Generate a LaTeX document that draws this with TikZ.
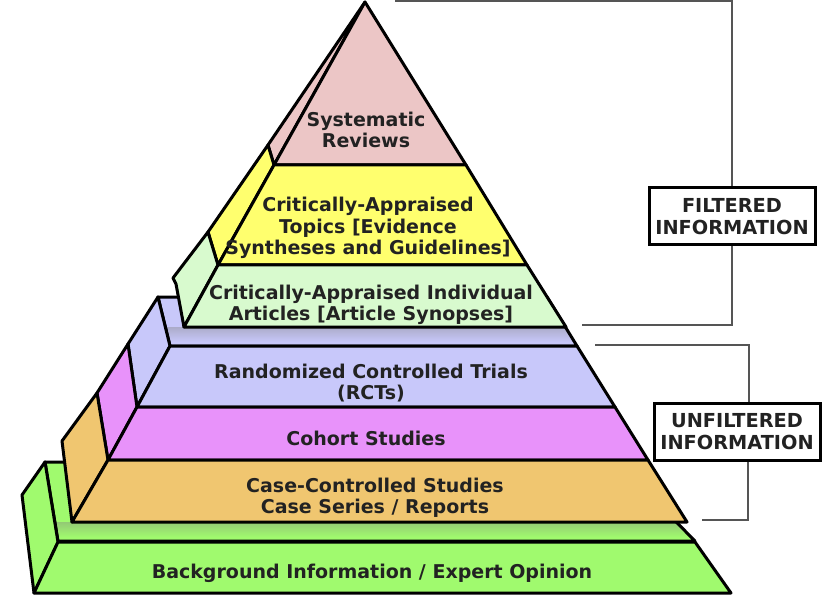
\documentclass[tikz,border=0pt]{standalone}
\usepackage{fontspec}
\setmainfont{DejaVu Sans}
\definecolor{cpink}{RGB}{236,198,198}
\definecolor{cyellow}{RGB}{255,255,110}
\definecolor{cltgreen}{RGB}{216,250,206}
\definecolor{cblue}{RGB}{200,200,250}
\definecolor{cmag}{RGB}{232,146,250}
\definecolor{corange}{RGB}{240,198,112}
\definecolor{cgreen}{RGB}{160,250,110}
\definecolor{ctext}{RGB}{34,34,34}
\definecolor{cbracket}{RGB}{85,85,85}
\begin{document}
\begin{tikzpicture}[x=1pt,y=-1pt,
  face/.style={draw=black,line width=3pt,line join=round},
  label/.style={align=center,text=ctext,font=\fontsize{19}{21.5}\selectfont\bfseries,inner sep=0pt},
  infobox/.style={draw=black,line width=3pt,fill=white,minimum width=166pt,minimum height=57pt,align=center,text=ctext,font=\fontsize{19.3}{22.5}\selectfont\bfseries,inner sep=0pt},
  bracket/.style={draw=cbracket,line width=1.6pt}]
\useasboundingbox (0,0) rectangle (831,607);
% ---------- bottom slab (green) ----------
\fill[cgreen] (45,462) -- (617,462) -- (695,541) -- (58,541) -- cycle;
\begin{scope}
  \clip (45,462) -- (617,462) -- (695,541) -- (58,541) -- cycle;
  \shade[top color=cgreen!60!gray, bottom color=cgreen] (0,522) rectangle (831,537);
\end{scope}
\draw[face] (45,462) -- (617,462) -- (695,541) -- (58,541) -- cycle;
\draw[face,fill=cgreen] (45,462) -- (58,542) -- (34,593) -- (22,495) -- cycle;
\draw[face,fill=cgreen] (58,542) -- (695,542) -- (731,593) -- (34,593) -- cycle;
% ---------- middle group ----------
\fill[cblue] (158,297) -- (547,297) -- (577,346) -- (170,346) -- cycle;
\begin{scope}
  \clip (158,297) -- (547,297) -- (577,346) -- (170,346) -- cycle;
  \shade[top color=cblue!60!gray, bottom color=cblue] (0,327) rectangle (831,342);
\end{scope}
\draw[face] (158,297) -- (547,297) -- (577,346) -- (170,346) -- cycle;
\draw[face,fill=cblue] (158,297) -- (170,346) -- (137,407) -- (128,344) -- cycle;
\draw[face,fill=cmag] (128,344) -- (137,407) -- (108,460) -- (97,393) -- cycle;
\draw[face,fill=corange] (97,393) -- (108,460) -- (72,522) -- (62,441) -- cycle;
\draw[face,fill=cblue] (170,346) -- (577,346) -- (615,407) -- (137,407) -- cycle;
\draw[face,fill=cmag] (137,407) -- (615,407) -- (648,460) -- (108,460) -- cycle;
\draw[face,fill=corange] (108,460) -- (648,460) -- (687,522) -- (72,522) -- cycle;
% ---------- top group ----------
\draw[face,fill=cpink] (365,2) -- (274,165) -- (268,145) -- cycle;
\draw[face,fill=cyellow] (268,145) -- (274,165) -- (218,265) -- (208,232) -- cycle;
\draw[face,fill=cltgreen] (208,232) -- (218,265) -- (184,327) -- (176,284) -- (173,278) -- cycle;
\draw[face,fill=cpink] (365,2) -- (466,165) -- (274,165) -- cycle;
\draw[face,fill=cyellow] (274,165) -- (466,165) -- (527,265) -- (218,265) -- cycle;
\draw[face,fill=cltgreen] (218,265) -- (527,265) -- (566,327) -- (184,327) -- cycle;
% ---------- labels ----------
\node[label] (sr) at (366,130) {Systematic\\Reviews};
\node[label] (cat) at (368,228) {Critically-Appraised\\Topics [Evidence\\Syntheses and Guidelines]};
\node[label] (cai) at (371,305) {Critically-Appraised Individual\\Articles [Article Synopses]};
\node[label] (rct) at (371,383) {Randomized Controlled Trials\\(RCTs)};
\node[label] (coh) at (366,438) {Cohort Studies};
\node[label] (ccs) at (375,498) {Case-Controlled Studies\\Case Series / Reports};
\node[label] (bg) at (372,573) {Background Information / Expert Opinion};
% ---------- brackets ----------
\node[infobox] (fbox) at (732,216.5) {FILTERED\\INFORMATION};
\node[infobox] (ubox) at (737,431.5) {UNFILTERED\\INFORMATION};
\coordinate (f1) at (395,1);
\coordinate (f2) at (582,325);
\coordinate (u1) at (595,345);
\coordinate (u2) at (702,520);
\draw[bracket] (f1) -| (fbox.north);
\draw[bracket] (fbox.south) |- (f2);
\draw[bracket] (u1) -| ([xshift=12pt]ubox.north);
\draw[bracket] ([xshift=11pt]ubox.south) |- (u2);
\end{tikzpicture}
\end{document}
